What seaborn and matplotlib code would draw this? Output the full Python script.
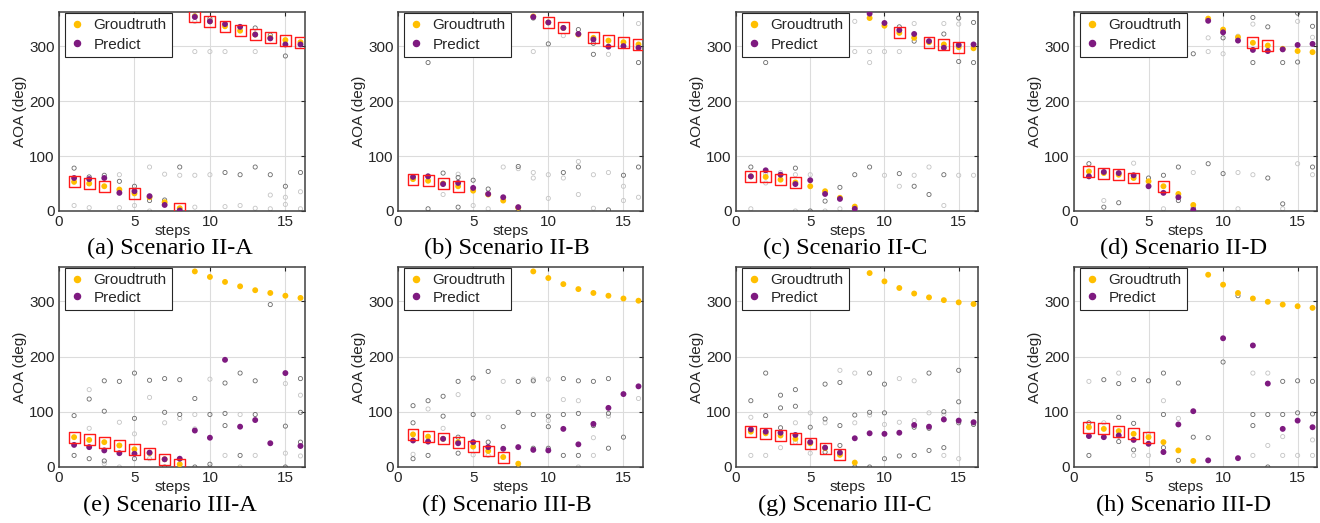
import matplotlib.pyplot as plt
import numpy as np
import pandas as pd
import seaborn as sns
from matplotlib.lines import Line2D

sns.set_theme(style="whitegrid")
plt.rcParams.update(
    {
        "font.family": ["Liberation Sans", "DejaVu Sans"],
        "axes.edgecolor": "#404040",
        "axes.linewidth": 1.1,
        "grid.color": "#dcdcdc",
        "grid.linewidth": 0.8,
        "xtick.color": "#262626",
        "ytick.color": "#262626",
        "axes.labelcolor": "#262626",
    }
)

###
# Data
###
steps = list(range(1, 17))
panels = ["a", "b", "c", "d", "e", "f", "g", "h"]
captions = {
    "a": "(a) Scenario II-A",
    "b": "(b) Scenario II-B",
    "c": "(c) Scenario II-C",
    "d": "(d) Scenario II-D",
    "e": "(e) Scenario III-A",
    "f": "(f) Scenario III-B",
    "g": "(g) Scenario III-C",
    "h": "(h) Scenario III-D",
}

gt = {
    "a": [53, 50, 45, 39, 32, 25, 16, 5, 354, 345, 336, 328, 321, 315, 311, 307],
    "b": [58, 55, 50, 45, 37, 30, 19, 6, 354, 343, 333, 321, 315, 310, 307, 303],
    "c": [63, 62, 57, 52, 45, 36, 24, 8, 351, 337, 324, 315, 307, 303, 298, 296],
    "d": [72, 69, 66, 60, 54, 45, 31, 11, 350, 330, 316, 306, 301, 295, 291, 289],
    "e": [54, 49, 45, 39, 32, 25, 14, 5, 354, 344, 335, 327, 320, 315, 310, 306],
    "f": [59, 55, 51, 45, 37, 29, 18, 6, 354, 342, 331, 322, 315, 310, 305, 301],
    "g": [64, 61, 57, 51, 43, 34, 22, 8, 351, 336, 324, 314, 307, 302, 298, 295],
    "h": [72, 69, 65, 60, 54, 45, 30, 11, 348, 330, 315, 305, 299, 294, 291, 288],
}

pred = {
    "a": [60, 58, 60, 33, 36, 27, 11, 1, 353, 345, 340, 335, 321, 314, 303, 303],
    "b": [62, 63, 49, 51, 42, 31, 25, 7, 353, 343, 333, 322, 312, 299, 300, 297],
    "c": [63, 74, 66, 49, 56, 31, 22, 4, 359, 342, 329, 322, 309, 297, 302, 303],
    "d": [63, 71, 69, 65, 45, 33, 25, 2, 346, 325, 310, 293, 291, 294, 302, 304],
    "e": [40, 36, 30, 25, 24, 26, 14, 15, 66, 53, 194, 73, 85, 43, 170, 38],
    "f": [48, 46, 51, 43, 45, 36, 33, 36, 31, 30, 69, 41, 78, 107, 132, 146],
    "g": [68, 64, 62, 58, 45, 35, 26, 52, 61, 60, 62, 76, 73, 86, 84, 81],
    "h": [56, 54, 57, 49, 42, 27, 77, 101, 12, 233, 16, 220, 151, 69, 84, 72],
}

# steps marked with a red box
boxed = {
    "a": [1, 2, 3, 5, 8, 9, 10, 11, 12, 13, 14, 15, 16],
    "b": [1, 2, 3, 4, 10, 11, 13, 14, 15, 16],
    "c": [1, 2, 3, 4, 11, 13, 14, 15],
    "d": [1, 2, 3, 4, 6, 12, 13],
    "e": [1, 2, 3, 4, 5, 6, 7, 8],
    "f": [1, 2, 3, 4, 5, 6, 7],
    "g": [1, 2, 3, 4, 5, 6, 7],
    "h": [1, 2, 3, 4, 5],
}

# candidate estimates (faint open circles), (step, aoa)
cand_dark = {
    "a": [(1, 78), (2, 62), (3, 65), (4, 54), (5, 45), (6, 19), (7, 20), (8, 80), (9, 355), (10, 350),
          (11, 70), (12, 66), (13, 333), (13, 80), (14, 320), (14, 66), (15, 282), (15, 45), (16, 70)],
    "b": [(2, 270), (2, 4), (3, 69), (4, 61), (4, 7), (5, 56), (6, 40), (8, 81), (8, 0), (9, 351),
          (10, 304), (11, 70), (12, 330), (12, 80), (13, 305), (13, 285), (14, 2), (15, 65), (16, 270), (16, 80)],
    "c": [(1, 80), (2, 270), (4, 78), (5, 0), (6, 18), (7, 43), (8, 66), (9, 80), (11, 335), (11, 68),
          (12, 309), (12, 45), (13, 30), (14, 322), (14, 66), (15, 351), (15, 272), (16, 343), (16, 270)],
    "d": [(1, 86), (2, 7), (3, 15), (5, 60), (6, 65), (7, 80), (7, 19), (8, 286), (8, 6), (9, 86),
          (10, 315), (10, 68), (12, 352), (12, 270), (13, 335), (13, 60), (14, 270), (14, 13),
          (15, 360), (15, 271), (16, 336), (16, 80)],
    "e": [(1, 93), (1, 21), (2, 123), (2, 15), (3, 156), (3, 101), (3, 11), (4, 155), (4, 39), (5, 170),
          (5, 88), (5, 15), (6, 157), (7, 160), (7, 99), (7, 0), (8, 158), (8, 95), (9, 124), (9, 0),
          (10, 95), (10, 5), (11, 152), (11, 97), (11, 75), (12, 170), (12, 21), (13, 156), (13, 95),
          (14, 294), (15, 74), (15, 0), (16, 160), (16, 99), (16, 45)],
    "f": [(1, 111), (1, 80), (1, 15), (2, 120), (2, 21), (3, 128), (3, 92), (4, 155), (4, 54), (4, 25),
          (5, 161), (5, 95), (6, 173), (6, 45), (7, 73), (8, 155), (8, 99), (8, 0), (9, 156), (9, 95),
          (9, 34), (10, 92), (10, 73), (10, 34), (11, 160), (11, 95), (11, 21), (12, 156), (12, 97),
          (12, 21), (13, 155), (13, 75), (14, 160), (14, 97), (14, 34), (15, 54)],
    "g": [(1, 120), (2, 170), (2, 93), (3, 130), (3, 107), (3, 71), (4, 140), (4, 110), (5, 72), (6, 150),
          (6, 87), (6, 27), (7, 153), (7, 75), (7, 39), (8, 94), (8, 0), (9, 170), (9, 99), (9, 0),
          (10, 150), (10, 98), (10, 15), (11, 20), (12, 72), (12, 21), (13, 170), (13, 70), (13, 30),
          (14, 100), (14, 35), (15, 175), (15, 118), (15, 80), (16, 77)],
    "h": [(1, 80), (1, 21), (2, 158), (3, 151), (3, 90), (3, 46), (4, 158), (4, 79), (4, 31), (5, 156),
          (6, 170), (6, 95), (6, 35), (7, 152), (7, 12), (8, 54), (9, 53), (10, 190), (11, 310), (12, 95),
          (12, 75), (13, 95), (13, 0), (14, 155), (14, 95), (15, 156), (15, 98), (16, 155), (16, 96)],
}

cand_light = {
    "a": [(1, 10), (2, 6), (4, 66), (4, 6), (5, 10), (6, 80), (6, 0), (7, 67), (8, 65), (9, 345), (9, 290),
          (9, 65), (9, 7), (10, 290), (10, 66), (11, 290), (11, 8), (12, 10), (13, 290), (13, 5), (14, 29),
          (14, 4), (15, 25), (15, 12), (16, 35), (16, 4)],
    "b": [(2, 64), (3, 30), (4, 67), (5, 10), (6, 4), (7, 354), (7, 80), (8, 77), (9, 290), (9, 70), (9, 60),
          (10, 66), (10, 23), (11, 319), (11, 60), (12, 90), (12, 30), (13, 66), (13, 5), (14, 285), (14, 70),
          (15, 45), (15, 19), (16, 341), (16, 25)],
    "c": [(1, 355), (1, 4), (2, 67), (2, 51), (3, 70), (4, 66), (4, 0), (5, 66), (6, 352), (6, 0), (7, 4),
          (8, 345), (8, 290), (9, 290), (9, 270), (10, 290), (10, 65), (11, 290), (11, 45), (12, 341),
          (12, 65), (13, 80), (14, 341), (14, 10), (15, 340), (15, 65), (16, 65)],
    "d": [(1, 352), (2, 19), (4, 350), (4, 87), (6, 4), (8, 70), (9, 315), (9, 290), (10, 286), (11, 318),
          (11, 70), (11, 4), (12, 340), (12, 66), (14, 4), (15, 345), (15, 86), (16, 316), (16, 66)],
    "e": [(2, 140), (2, 70), (3, 6), (4, 81), (4, 0), (5, 60), (6, 126), (6, 15), (7, 80), (8, 88), (9, 95),
          (9, 69), (10, 159), (10, 0), (11, 21), (12, 95), (12, 0), (13, 21), (15, 151), (15, 25), (16, 130),
          (16, 20)],
    "f": [(1, 23), (2, 105), (3, 70), (4, 131), (5, 22), (6, 90), (6, 21), (7, 155), (9, 159), (10, 159),
          (10, 84), (11, 122), (12, 120), (12, 0), (13, 53), (13, 21), (14, 92), (16, 124)],
    "g": [(1, 90), (1, 21), (2, 21), (3, 35), (4, 80), (4, 45), (5, 98), (5, 25), (6, 80), (7, 175),
          (8, 170), (8, 80), (9, 94), (10, 77), (11, 160), (11, 81), (12, 156), (12, 84), (13, 98), (14, 95),
          (14, 21), (15, 15), (16, 78)],
    "h": [(1, 155), (2, 80), (3, 170), (4, 21), (5, 60), (5, 21), (6, 120), (7, 88), (12, 170), (12, 21),
          (13, 170), (13, 39), (14, 55), (14, 21), (15, 21), (16, 49), (16, 21)],
}

palette = {"Groudtruth": "#FFBF00", "Predict": "#7E1A80"}

###
# Layout (pixel boxes of the 1320x523 figure)
###
W, H = 1320, 523
col_left = [59, 398, 736, 1074]
col_width = [246, 245, 242, 243]
row_bottom = [211, 467]
row_height = [199, 200]
cap_x = [170, 507, 845, 1184]
cap_y = [248, 505]

fig = plt.figure(figsize=(W / 100, H / 100), dpi=100)

for i, p in enumerate(panels):
    r, c = divmod(i, 4)
    ax = fig.add_axes(
        [col_left[c] / W, 1 - row_bottom[r] / H, col_width[c] / W, row_height[r] / H]
    )

    # faint candidate circles
    for pts, col in [(cand_light[p], "#c4c4c4"), (cand_dark[p], "#6a6a6a")]:
        xs, ys = zip(*pts)
        ax.scatter(xs, ys, s=9, facecolors="none", edgecolors=col, linewidths=0.6, zorder=2)

    df = pd.concat(
        [
            pd.DataFrame({"step": steps, "aoa": gt[p], "series": "Groudtruth"}),
            pd.DataFrame({"step": steps, "aoa": pred[p], "series": "Predict"}),
        ]
    )
    sns.scatterplot(
        data=df,
        x="step",
        y="aoa",
        hue="series",
        palette=palette,
        s=18,
        edgecolor="none",
        legend=False,
        zorder=3,
        ax=ax,
    )

    bx = boxed[p]
    by = [gt[p][s - 1] for s in bx]
    ax.scatter(bx, by, s=62, marker="s", facecolors="none", edgecolors="#ff1a1a",
               linewidths=1.0, zorder=4)

    ax.set_xlim(0, 16.3)
    ax.set_ylim(0, 362)
    ax.set_xticks([0, 5, 10, 15])
    ax.set_yticks([0, 100, 200, 300])
    ax.tick_params(direction="in", length=3, width=0.8, top=True, right=True,
                   labelsize=11, pad=3)
    ax.set_xlabel("")
    ax.set_ylabel("AOA (deg)", fontsize=11, labelpad=2)
    ax.text(0.46, -0.1, "steps", transform=ax.transAxes, ha="center", va="center",
            fontsize=11, color="#262626")
    for sp in ax.spines.values():
        sp.set_visible(True)
        sp.set_color("#404040")

    handles = [
        Line2D([], [], marker="o", ls="", color=palette[k], markersize=4.4, label=k)
        for k in palette
    ]
    leg = ax.legend(
        handles=handles,
        loc="upper left",
        bbox_to_anchor=(0.025, 0.995),
        borderaxespad=0,
        fontsize=11,
        handlelength=0.9,
        handletextpad=0.6,
        borderpad=0.35,
        labelspacing=0.35 if r == 0 else 0.22,
        fancybox=False,
        framealpha=1,
    )
    leg.get_frame().set_edgecolor("#262626")
    leg.get_frame().set_linewidth(0.8)
    leg.set_zorder(5)

    fig.text(cap_x[c] / W, 1 - cap_y[r] / H, captions[p], ha="center", va="center",
             fontsize=17.5, family="Liberation Serif", color="black")

fig.savefig("out.png", dpi=100)
